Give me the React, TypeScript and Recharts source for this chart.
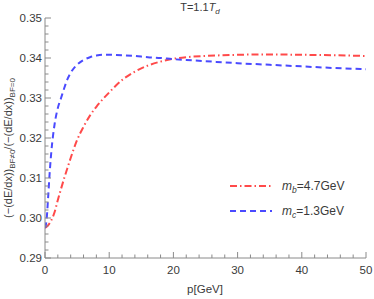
import React from "react";
import { LineChart, Line, XAxis, YAxis, Legend } from "recharts";

const pValues = [0, 0.25, 0.5, 0.75, 1, 1.5, 2, 2.5, 3, 3.5, 4, 5, 6, 7, 8, 9, 10, 12, 14, 16, 18, 20, 22, 25, 30, 35, 40, 45, 50];
const mcValues = [0.2975, 0.2996, 0.3055, 0.3118, 0.3168, 0.3235, 0.3275, 0.33, 0.3325, 0.3347, 0.3363, 0.3383, 0.3395, 0.3402, 0.3406, 0.3408, 0.3408, 0.3407, 0.3405, 0.3402, 0.34, 0.3397, 0.3395, 0.3392, 0.3387, 0.3383, 0.3379, 0.3375, 0.3372];
const mbValues = [0.2975, 0.2978, 0.2982, 0.2988, 0.2995, 0.3015, 0.3045, 0.3073, 0.31, 0.3125, 0.315, 0.3195, 0.3228, 0.3256, 0.3278, 0.3297, 0.3314, 0.3345, 0.3366, 0.3381, 0.3391, 0.3398, 0.3402, 0.3405, 0.3408, 0.3409, 0.3408, 0.3407, 0.3405];

const xMajor = [0, 10, 20, 30, 40, 50];
const xTicks = [0, 2, 4, 6, 8, 10, 12, 14, 16, 18, 20, 22, 24, 26, 28, 30, 32, 34, 36, 38, 40, 42, 44, 46, 48, 50];
const yMajor = [0.29, 0.3, 0.31, 0.32, 0.33, 0.34, 0.35];
const yMajorLabels = ["0.29", "0.30", "0.31", "0.32", "0.33", "0.34", "0.35"];
const yTicks = [0.29, 0.292, 0.294, 0.296, 0.298, 0.3, 0.302, 0.304, 0.306, 0.308, 0.31, 0.312, 0.314, 0.316, 0.318, 0.32, 0.322, 0.324, 0.326, 0.328, 0.33, 0.332, 0.334, 0.336, 0.338, 0.34, 0.342, 0.344, 0.346, 0.348, 0.35];

const data = pValues.map((p, i) => ({ p, mc: mcValues[i], mb: mbValues[i] }));

const FRAME = "#8a8a8a";
const TEXT = "#3a3a3a";
const FONT = "'Liberation Sans', Arial, sans-serif";
const RED = "#ff4a4a";
const BLUE = "#4a4aff";

const isXMajor = (v: number) => xMajor.some((m) => Math.abs(m - v) < 1e-6);
const yMajorIndex = (v: number) => yMajor.findIndex((m) => Math.abs(m - v) < 1e-6);

const XTick = (props: any) => {
  const { x, y, payload, dir, showLabel } = props;
  const major = isXMajor(payload.value);
  const len = major ? 6 : 3.5;
  return (
    <g>
      <line x1={x} x2={x} y1={y} y2={y + dir * len} stroke={FRAME} strokeWidth={1} />
      {showLabel && major ? (
        <text x={x} y={y + 16} textAnchor="middle" fontSize={11.5} fontFamily={FONT} fill={TEXT}>
          {payload.value}
        </text>
      ) : null}
    </g>
  );
};

const YTick = (props: any) => {
  const { x, y, payload, dir, showLabel } = props;
  const idx = yMajorIndex(payload.value);
  const major = idx >= 0;
  const len = major ? 6 : 3.5;
  return (
    <g>
      <line x1={x} x2={x + dir * len} y1={y} y2={y} stroke={FRAME} strokeWidth={1} />
      {showLabel && major ? (
        <text x={x - 3} y={y + 4} textAnchor="end" fontSize={11.5} fontFamily={FONT} fill={TEXT}>
          {yMajorLabels[idx]}
        </text>
      ) : null}
    </g>
  );
};

const LegendContent = () => (
  <svg width={146} height={50} style={{ display: "block" }}>
    <line x1={2} x2={44} y1={12} y2={12} stroke={RED} strokeWidth={2} strokeDasharray="7 3 1.5 3" />
    <text x={54} y={16} fontSize={12} fontFamily={FONT} fill={TEXT}>
      <tspan fontStyle="italic">m</tspan>
      <tspan fontStyle="italic" fontSize={8.5} dy={3}>b</tspan>
      <tspan dy={-3}>=4.7GeV</tspan>
    </text>
    <line x1={2} x2={44} y1={37} y2={37} stroke={BLUE} strokeWidth={2} strokeDasharray="6 4" />
    <text x={54} y={41} fontSize={12} fontFamily={FONT} fill={TEXT}>
      <tspan fontStyle="italic">m</tspan>
      <tspan fontStyle="italic" fontSize={8.5} dy={3}>c</tspan>
      <tspan dy={-3}>=1.3GeV</tspan>
    </text>
  </svg>
);

const YLabel = () => (
  <text
    x={0}
    y={0}
    transform="translate(12,148) rotate(-90)"
    textAnchor="middle"
    fontSize={11}
    fontFamily={FONT}
    fill={TEXT}
  >
    <tspan>(−(dE/dx))</tspan>
    <tspan fontSize={8} dy={3}>BF≠0</tspan>
    <tspan dy={-3}>/(−(dE/dx))</tspan>
    <tspan fontSize={8} dy={3}>BF=0</tspan>
  </text>
);

const Titles = () => (
  <g>
    <text x={205} y={293} textAnchor="middle" fontSize={11.5} fontFamily={FONT} fill={TEXT}>
      p[GeV]
    </text>
    <text x={200} y={11} textAnchor="middle" fontSize={11} fontFamily={FONT} fill={TEXT}>
      <tspan>T=1.1</tspan>
      <tspan fontStyle="italic">T</tspan>
      <tspan fontStyle="italic" fontSize={8} dy={3}>d</tspan>
    </text>
  </g>
);

export default function App() {
  return (
    <div style={{ position: "absolute", left: 0, top: 0, width: 374, height: 299, background: "#fff" }}>
      <LineChart width={374} height={299} data={data} margin={{ top: 18, right: 8, bottom: 0, left: 0 }}>
        <XAxis
          xAxisId="bottom"
          dataKey="p"
          type="number"
          domain={[0, 50]}
          ticks={xTicks}
          interval={0}
          allowDataOverflow
          height={41}
          tickSize={0}
          tickMargin={0}
          tickLine={false}
          axisLine={{ stroke: FRAME }}
          tick={(props: any) => <XTick {...props} dir={-1} showLabel />}
          label={{ content: () => <Titles /> }}
        />
        <XAxis
          xAxisId="top"
          orientation="top"
          dataKey="p"
          type="number"
          domain={[0, 50]}
          ticks={xTicks}
          interval={0}
          allowDataOverflow
          height={0}
          tickSize={0}
          tickMargin={0}
          tickLine={false}
          axisLine={{ stroke: FRAME }}
          tick={(props: any) => <XTick {...props} dir={1} showLabel={false} />}
        />
        <YAxis
          yAxisId="left"
          type="number"
          domain={[0.29, 0.35]}
          ticks={yTicks}
          interval={0}
          allowDataOverflow
          width={45}
          tickSize={0}
          tickMargin={0}
          tickLine={false}
          axisLine={{ stroke: FRAME }}
          tick={(props: any) => <YTick {...props} dir={1} showLabel />}
          label={{ content: () => <YLabel /> }}
        />
        <YAxis
          yAxisId="right"
          orientation="right"
          type="number"
          domain={[0.29, 0.35]}
          ticks={yTicks}
          interval={0}
          allowDataOverflow
          width={0}
          tickSize={0}
          tickMargin={0}
          tickLine={false}
          axisLine={{ stroke: FRAME }}
          tick={(props: any) => <YTick {...props} dir={-1} showLabel={false} />}
        />
        <Legend
          layout="vertical"
          align="center"
          verticalAlign="middle"
          content={() => <LegendContent />}
          wrapperStyle={{ position: "absolute", left: 228, top: 174, width: 146, height: 50 }}
        />
        <Line
          xAxisId="top"
          yAxisId="right"
          dataKey="mb"
          stroke="none"
          dot={false}
          activeDot={false}
          legendType="none"
          isAnimationActive={false}
        />
        <Line
          xAxisId="bottom"
          yAxisId="left"
          type="monotone"
          dataKey="mb"
          stroke={RED}
          strokeWidth={2}
          strokeDasharray="7 3 1.5 3"
          dot={false}
          activeDot={false}
          isAnimationActive={false}
        />
        <Line
          xAxisId="bottom"
          yAxisId="left"
          type="monotone"
          dataKey="mc"
          stroke={BLUE}
          strokeWidth={2}
          strokeDasharray="6 4"
          dot={false}
          activeDot={false}
          isAnimationActive={false}
        />
      </LineChart>
    </div>
  );
}
